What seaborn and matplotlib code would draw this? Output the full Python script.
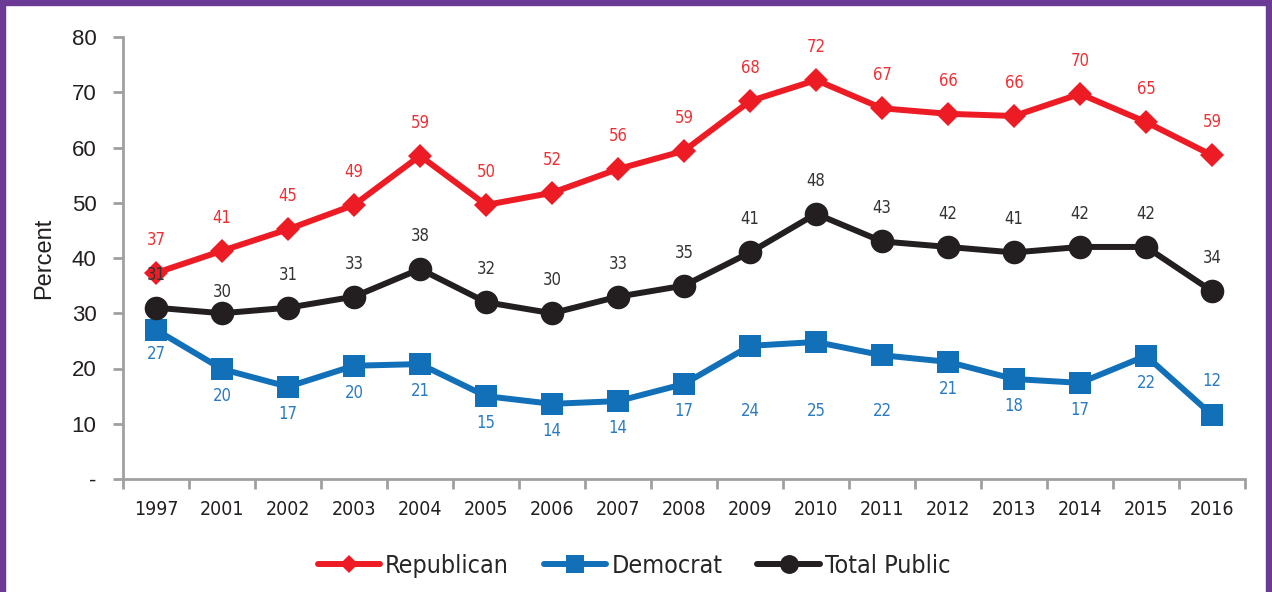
import numpy as np
import pandas as pd
import matplotlib.pyplot as plt
from matplotlib.patches import Rectangle
import seaborn as sns

# 数据
years = ['1997', '2001', '2002', '2003', '2004', '2005', '2006', '2007', '2008',
         '2009', '2010', '2011', '2012', '2013', '2014', '2015', '2016']
republican = [37.3, 41.3, 45.2, 49.6, 58.5, 49.6, 51.8, 56.1, 59.4,
              68.4, 72.2, 67.1, 66.1, 65.7, 69.7, 64.6, 58.6]
democrat = [27.0, 19.9, 16.7, 20.5, 20.8, 15.0, 13.6, 14.1, 17.2,
            24.1, 24.8, 22.4, 21.2, 18.1, 17.4, 22.3, 11.6]
total_public = [31, 30, 31, 33, 38, 32, 30, 33, 35, 41, 48, 43, 42, 41, 42, 42, 34]
rep_labels = [37, 41, 45, 49, 59, 50, 52, 56, 59, 68, 72, 67, 66, 66, 70, 65, 59]
dem_labels = [27, 20, 17, 20, 21, 15, 14, 14, 17, 24, 25, 22, 21, 18, 17, 22, 12]
tot_labels = [31, 30, 31, 33, 38, 32, 30, 33, 35, 41, 48, 43, 42, 41, 42, 42, 34]
y_ticks = [0, 10, 20, 30, 40, 50, 60, 70, 80]
y_tick_labels = ['-', '10', '20', '30', '40', '50', '60', '70', '80']

df = pd.DataFrame({'year': years, 'Republican': republican,
                   'Democrat': democrat, 'Total Public': total_public})

sns.set_style('white')
plt.rcParams['font.family'] = ['Liberation Sans', 'DejaVu Sans']
narrow = ['DejaVu Sans']  # 用 condensed 字宽模拟窄体

fig = plt.figure(figsize=(12.72, 5.92), dpi=100)
ax = fig.add_axes([123 / 1272, 1 - 479 / 592, (1245 - 123) / 1272, (479 - 37) / 592])

red, blue, black = '#ED1C24', '#1270B8', '#231F20'
series = [
    ('Republican', red, 'D', 12, rep_labels, '#EE3035'),
    ('Democrat', blue, 's', 16.5, dem_labels, '#2A7BC2'),
    ('Total Public', black, 'o', 17, tot_labels, '#333333'),
]
for name, color, marker, ms, labels, lcolor in series:
    sns.lineplot(data=df, x='year', y=name, ax=ax, color=color, lw=4.3,
                 marker=marker, markersize=ms, markeredgewidth=0, label=name, sort=False)

# 数据标签（像素偏移）
offsets = {'Republican': [33] * 17, 'Total Public': [33] * 17, 'Democrat': [-27] * 17}
offsets['Total Public'][1] = 21
offsets['Democrat'][0] = -24
offsets['Democrat'][9] = -65
offsets['Democrat'][10] = -69
offsets['Democrat'][11] = -56
offsets['Democrat'][16] = 34
for name, color, marker, ms, labels, lcolor in series:
    for i, (v, lab) in enumerate(zip(df[name], labels)):
        ax.annotate(str(lab), (i, v), xytext=(0, offsets[name][i] * 0.72),
                    textcoords='offset points', ha='center', va='center',
                    fontsize=12, color=lcolor, family=narrow, stretch='condensed')

ax.set_xlim(-0.5, len(years) - 0.5)
ax.set_ylim(0, 80)
ax.set_yticks(y_ticks)
ax.set_yticklabels(y_tick_labels, fontsize=16, color=black)
ax.set_xticks(range(len(years)))
ax.set_xticklabels(years, fontsize=14, color=black, family=narrow, stretch='condensed')
ax.set_xticks(np.arange(-0.5, len(years), 1), minor=True)
ax.tick_params(axis='x', which='major', bottom=False, length=0, pad=15)
ax.tick_params(axis='x', which='minor', bottom=True, length=7, width=2, color='#A0A0A0', direction='out')
ax.tick_params(axis='y', left=True, length=7, width=2, color='#A0A0A0', direction='out', pad=12)
ax.set_xlabel('')
ax.set_ylabel('Percent', fontsize=17, color=black, labelpad=12)
for s in ['top', 'right']:
    ax.spines[s].set_visible(False)
for s in ['left', 'bottom']:
    ax.spines[s].set_color('#A0A0A0')
    ax.spines[s].set_linewidth(2)

ax.legend(loc='center', bbox_to_anchor=(634 / 1272, 1 - 566 / 592), bbox_transform=fig.transFigure,
          ncol=3, frameon=False, handlelength=2.5, columnspacing=1.4, handletextpad=0.2,
          markerscale=0.8, prop={'family': narrow, 'size': 18, 'stretch': 'condensed'})

# 紫色边框
purple = '#6A3A95'
fig.patches.extend([
    Rectangle((0, 1 - 5 / 592), 1, 5 / 592, transform=fig.transFigure, color=purple, zorder=10),
    Rectangle((0, 0), 5 / 1272, 1, transform=fig.transFigure, color=purple, zorder=10),
    Rectangle((1 - 6 / 1272, 0), 6 / 1272, 1, transform=fig.transFigure, color=purple, zorder=10),
])

fig.savefig('out.png', dpi=100)
